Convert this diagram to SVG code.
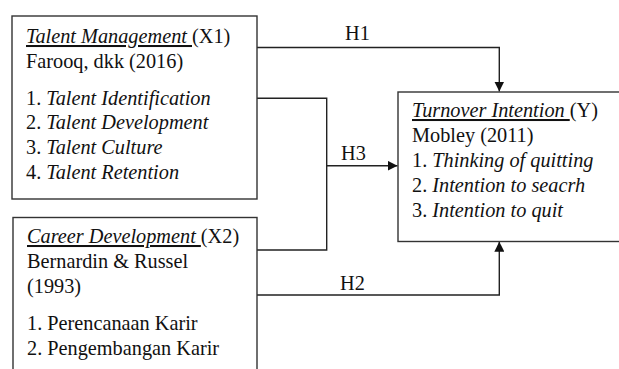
<svg xmlns="http://www.w3.org/2000/svg" width="619" height="369" viewBox="0 0 619 369">
<style>
text{font-family:'Liberation Serif','DejaVu Serif',serif;font-size:20.3px;fill:#111}
.i{font-style:italic}
.u{text-decoration:underline}
.box{fill:#fff;stroke:#333;stroke-width:1.4}
.ln{fill:none;stroke:#222;stroke-width:1.4}
</style>
<defs>
<marker id="ah" viewBox="0 0 10 10" refX="10" refY="5" markerWidth="10" markerHeight="10" markerUnits="userSpaceOnUse" orient="auto">
<path d="M0,0 L10,5 L0,10 Z" fill="#111"/>
</marker>
</defs>
<g id="connectors">
<path class="ln" d="M257,47.5 H499.3 V91.5" marker-end="url(#ah)"/>
<path class="ln" d="M257,295 H499.3 V241.7" marker-end="url(#ah)"/>
<path class="ln" d="M257,98.3 H326.7 V250 H257" stroke="#555"/>
<path class="ln" d="M326.7,165.7 H397.5" marker-end="url(#ah)"/>
<text x="345" y="40">H1</text>
<text x="341" y="160">H3</text>
<text x="340" y="290">H2</text>
</g>
<g id="x1">
<rect class="box" x="12" y="16" width="245" height="183" stroke="#555"/>
<text x="26" y="43"><tspan class="i u">Talent Management </tspan>(X1)</text>
<text x="26" y="68">Farooq, dkk (2016)</text>
<text x="26" y="105">1. <tspan class="i">Talent Identification</tspan></text>
<text x="26" y="129">2. <tspan class="i">Talent Development</tspan></text>
<text x="26" y="154">3. <tspan class="i">Talent Culture</tspan></text>
<text x="26" y="179">4. <tspan class="i">Talent Retention</tspan></text>
</g>
<g id="x2">
<rect class="box" x="13" y="217.5" width="244" height="170" stroke="#555"/>
<text x="27" y="243"><tspan class="i u">Career Development </tspan>(X2)</text>
<text x="27" y="268">Bernardin &amp; Russel</text>
<text x="27" y="293">(1993)</text>
<text x="27" y="330">1. Perencanaan Karir</text>
<text x="27" y="355">2. Pengembangan Karir</text>
</g>
<g id="y">
<rect class="box" x="398" y="92" width="230" height="149.5"/>
<text x="412" y="117"><tspan class="i u">Turnover Intention </tspan>(Y)</text>
<text x="412" y="142">Mobley (2011)</text>
<text x="412" y="167">1. <tspan class="i">Thinking of quitting</tspan></text>
<text x="412" y="192">2. <tspan class="i">Intention to seacrh</tspan></text>
<text x="412" y="217">3. <tspan class="i">Intention to quit</tspan></text>
</g>
</svg>
